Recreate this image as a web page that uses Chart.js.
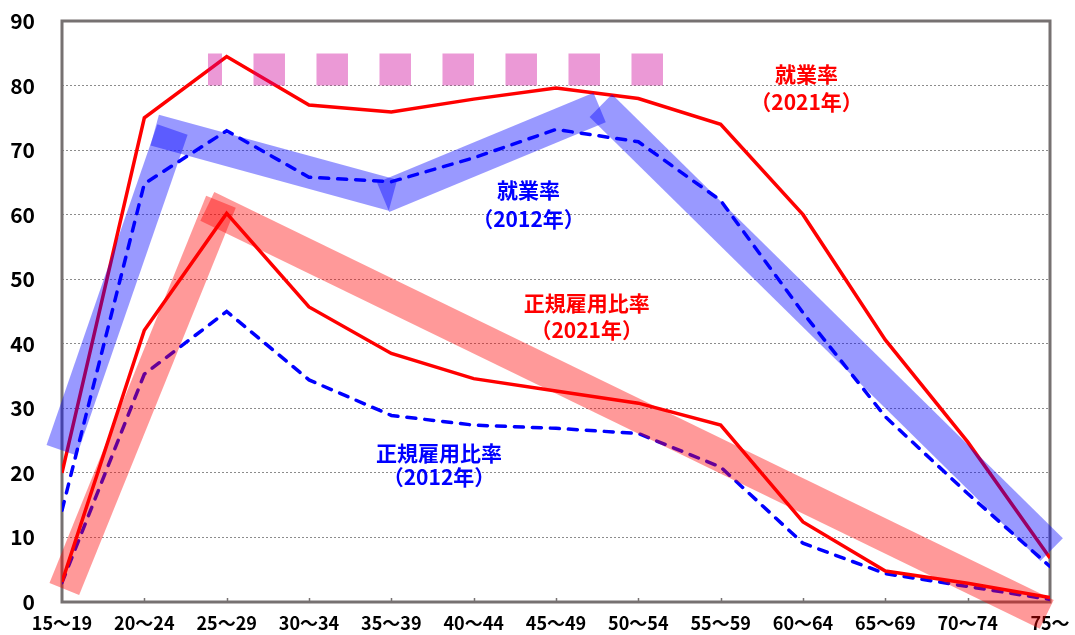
<!DOCTYPE html>
<html>
<head>
<meta charset="utf-8">
<script src="https://cdn.jsdelivr.net/npm/chart.js@4.4.1/dist/chart.umd.min.js"></script>
<style>
html,body{margin:0;padding:0;background:#fff;}
canvas{display:block;}
</style>
</head>
<body>
<canvas id="c" width="1075" height="635"></canvas>
<script>
// ---- data ----
const categories = ['15～19','20～24','25～29','30～34','35～39','40～44','45～49','50～54','55～59','60～64','65～69','70～74','75～'];
const yTickValues = [0,10,20,30,40,50,60,70,80,90];
const emp2021 = [20.0, 75.0, 84.5, 77.0, 75.9, 77.9, 79.6, 78.0, 74.0, 60.0, 40.6, 24.8, 6.8];
const emp2012 = [14.2, 64.8, 73.0, 65.8, 65.1, 68.8, 73.2, 71.3, 62.2, 44.8, 28.7, 16.8, 5.5];
const reg2021 = [3.1, 42.1, 60.2, 45.7, 38.5, 34.6, 32.7, 30.8, 27.4, 12.4, 4.8, 2.9, 0.7];
const reg2012 = [3.0, 35.3, 45.0, 34.4, 28.9, 27.4, 26.9, 26.1, 20.9, 9.1, 4.4, 2.4, 0.4];
// highlight bands: [category position, value] endpoints
const blueBand1 = [[-0.004, 23.5], [1.342, 73.2]];
const blueBand2 = [[1.126, 73.1], [4.02, 63.0]];
const blueBand3 = [[3.90, 62.7], [6.53, 76.6]];
const blueBand4 = [[6.544, 76.9], [12.02, 8.1]];
const redBand1 = [[0.028, 2.0], [1.931, 62.0]];
const redBand2 = [[1.765, 61.3], [11.96, -1.9]];
const pinkBand = [[1.773, 82.5], [7.312, 82.5]];
// annotation texts
const noteTexts = [
  ['就業率', '（2021年）'],
  ['就業率', '（2012年）'],
  ['正規雇用比率', '（2021年）'],
  ['正規雇用比率', '（2012年）']
];

// ---- styling / placement ----
const notePlacement = [
  { x: 9.043, y: [81.86, 77.5], color: '#ff0000' },
  { x: 5.666, y: [63.8, 59.3], color: '#0000ff' },
  { x: 6.373, y: [46.27, 42.13], color: '#ff0000' },
  { x: 4.579, y: [23.03, 19.36], color: '#0000ff' }
];
const FONT = "'Noto Sans CJK JP', 'Noto Sans', sans-serif";
const BORDER = '#767171';

const toXY = arr => arr.map(p => ({ x: p[0], y: p[1] }));
const series = arr => arr.map((v, i) => ({ x: i, y: v }));

function band(points, color, extra) {
  return Object.assign({
    data: toXY(points),
    borderColor: color,
    borderWidth: 32,
    borderCapStyle: 'butt',
    pointRadius: 0,
    fill: false,
    tension: 0,
    clip: false
  }, extra || {});
}
const BLUE_BAND = 'rgba(0,0,255,0.4)';
const RED_BAND = 'rgba(255,0,0,0.4)';

const frame = {
  id: 'frame',
  beforeDatasetsDraw(chart) {
    const { ctx, chartArea: a, scales } = chart;
    ctx.save();
    ctx.strokeStyle = BORDER;
    ctx.lineWidth = 1.5;
    categories.forEach((c, i) => {
      if (i === 0 || i === categories.length - 1) return;
      const x = Math.round(scales.x.getPixelForValue(i)) + 0.5;
      ctx.beginPath();
      ctx.moveTo(x, a.bottom - 4);
      ctx.lineTo(x, a.bottom);
      ctx.stroke();
    });
    ctx.lineWidth = 3;
    ctx.strokeRect(a.left, a.top, a.right - a.left, a.bottom - a.top);
    ctx.restore();
  },
  afterDatasetsDraw(chart) {
    const { ctx, scales } = chart;
    ctx.save();
    ctx.font = 'bold 21px ' + FONT;
    ctx.textAlign = 'center';
    ctx.textBaseline = 'middle';
    noteTexts.forEach((lines, k) => {
      const p = notePlacement[k];
      ctx.fillStyle = p.color;
      lines.forEach((t, j) => {
        ctx.fillText(t, scales.x.getPixelForValue(p.x), scales.y.getPixelForValue(p.y[j]));
      });
    });
    ctx.restore();
  }
};

new Chart(document.getElementById('c'), {
  type: 'line',
  data: {
    datasets: [
      band(blueBand1, BLUE_BAND),
      band(blueBand2, BLUE_BAND),
      band(blueBand3, BLUE_BAND),
      band(blueBand4, BLUE_BAND),
      band(redBand1, RED_BAND),
      band(redBand2, RED_BAND),
      band(pinkBand, 'rgba(204,0,153,0.4)', { borderDash: [31.5, 31.5], borderDashOffset: 17.5 }),
      { label: '就業率（2021年）', data: series(emp2021), borderColor: '#ff0000', borderWidth: 3.5, pointRadius: 0, tension: 0, fill: false },
      { label: '正規雇用比率（2021年）', data: series(reg2021), borderColor: '#ff0000', borderWidth: 3.5, pointRadius: 0, tension: 0, fill: false },
      { label: '就業率（2012年）', data: series(emp2012), borderColor: '#0000ff', borderWidth: 3.5, borderDash: [9, 9], borderCapStyle: 'round', pointRadius: 0, tension: 0, fill: false },
      { label: '正規雇用比率（2012年）', data: series(reg2012), borderColor: '#0000ff', borderWidth: 3.5, borderDash: [9, 9], borderCapStyle: 'round', pointRadius: 0, tension: 0, fill: false }
    ]
  },
  options: {
    responsive: false,
    devicePixelRatio: 1,
    animation: false,
    events: [],
    layout: { autoPadding: false, padding: { top: 21, right: 25, bottom: 0, left: 0 } },
    plugins: { legend: { display: false }, tooltip: { enabled: false } },
    scales: {
      x: {
        type: 'linear',
        min: 0,
        max: categories.length - 1,
        afterFit(s) { s.height = 33; s.paddingRight = 0; s.paddingLeft = 0; },
        afterBuildTicks(s) { s.ticks = categories.map((c, i) => ({ value: i })); },
        grid: { display: false, drawTicks: false },
        border: { display: false },
        ticks: {
          autoSkip: false,
          maxRotation: 0,
          minRotation: 0,
          padding: 10,
          color: '#000',
          font: { family: FONT, size: 18, weight: 'bold' },
          callback: v => categories[v]
        }
      },
      y: {
        min: 0,
        max: 90,
        afterFit(s) { s.width = 62; s.paddingTop = 0; s.paddingBottom = 0; },
        afterBuildTicks(s) { s.ticks = yTickValues.map(v => ({ value: v })); },
        grid: {
          drawTicks: false,
          color: ctx => (ctx.tick && (ctx.tick.value === 0 || ctx.tick.value === 90)) ? 'rgba(0,0,0,0)' : '#8c8c8c',
          lineWidth: 1
        },
        border: { display: false, dash: [2, 2] },
        ticks: {
          padding: 27,
          color: '#000',
          font: { family: FONT, size: 21, weight: 'bold' }
        }
      }
    }
  },
  plugins: [frame]
});
</script>
</body>
</html>
